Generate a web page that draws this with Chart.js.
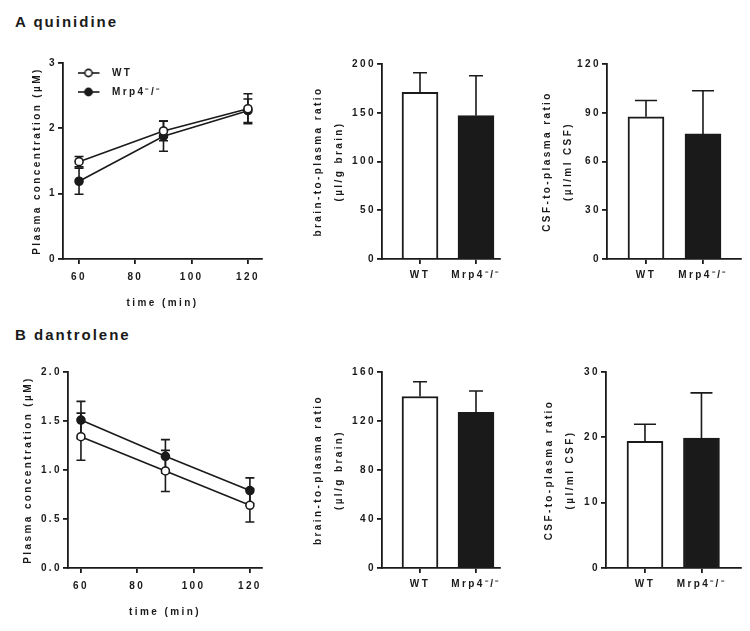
<!DOCTYPE html>
<html><head><meta charset="utf-8">
<script src="https://cdn.jsdelivr.net/npm/chart.js@4.4.1/dist/chart.umd.min.js"></script>
<style>
html,body{margin:0;padding:0;background:#fff;}
body{width:750px;height:631px;position:relative;overflow:hidden;font-family:"Liberation Sans",Arial,sans-serif;}
.ptitle{position:absolute;left:15px;font-weight:bold;font-size:15px;letter-spacing:2px;color:#1a1a1a;line-height:18px;}
canvas{position:absolute;}
</style></head><body>
<div class="ptitle" style="top:13px">A quinidine</div>
<div class="ptitle" style="top:326px">B dantrolene</div>
<canvas id="aLine" width="270" height="271" style="left:0px;top:40px"></canvas>
<canvas id="aBrain" width="240" height="249" style="left:270px;top:40px"></canvas>
<canvas id="aCsf" width="245" height="249" style="left:505px;top:40px"></canvas>
<canvas id="bLine" width="270" height="280" style="left:0px;top:340px"></canvas>
<canvas id="bBrain" width="240" height="258" style="left:270px;top:340px"></canvas>
<canvas id="bCsf" width="245" height="258" style="left:505px;top:340px"></canvas>
<script>
// ---------- data ----------
const timePoints = [60, 90, 120];
const timeTicks = [60, 80, 100, 120];
const seriesNames = ['WT', 'Mrp4\u207B/\u207B'];
const groups = ['WT', 'Mrp4\u207B/\u207B'];

// A quinidine
const quinWT = [1.49, 1.96, 2.30];
const quinWTErr = [0.08, 0.15, 0.23];
const quinKO = [1.19, 1.88, 2.27];
const quinKOErr = [0.20, 0.23, 0.18];
const quinYTicks = [0, 1, 2, 3];
const quinBrain = [171, 147];
const quinBrainErr = [20, 41];
const quinBrainTicks = [0, 50, 100, 150, 200];
const quinCsf = [87.5, 77];
const quinCsfErr = [10, 26.5];
const quinCsfTicks = [0, 30, 60, 90, 120];

// B dantrolene
const dantWT = [1.34, 0.99, 0.64];
const dantWTErr = [0.24, 0.21, 0.17];
const dantKO = [1.51, 1.14, 0.79];
const dantKOErr = [0.19, 0.17, 0.13];
const dantYTicks = [0, 0.5, 1.0, 1.5, 2.0];
const dantYTickLabels = ['0.0', '0.5', '1.0', '1.5', '2.0'];
const dantBrain = [140, 127];
const dantBrainErr = [12, 17.5];
const dantBrainTicks = [0, 40, 80, 120, 160];
const dantCsf = [19.4, 19.9];
const dantCsfErr = [2.6, 6.9];
const dantCsfTicks = [0, 10, 20, 30];

// ---------- style ----------
const INK = '#1a1a1a';
const FAMILY = "'Liberation Sans', Arial, sans-serif";
const LS = '2.4px';
const tickFont = {family: FAMILY, weight: 'bold', size: 10, lineHeight: 1.2};

Chart.defaults.animation = false;
Chart.defaults.events = [];
Chart.defaults.color = INK;

const spacingPlugin = {
  id: 'spacing',
  beforeUpdate(c) { c.ctx.letterSpacing = LS; },
  beforeLayout(c) { c.ctx.letterSpacing = LS; },
  beforeDraw(c) { c.ctx.letterSpacing = LS; }
};

const errorBarPlugin = {
  id: 'errorBars',
  beforeDatasetsDraw(chart, args, o) { if (o.mode === 'line') drawErr(chart, o); },
  afterDatasetsDraw(chart, args, o) { if (o.mode === 'bar') drawErr(chart, o); }
};
function drawErr(chart, o) {
  const ctx = chart.ctx, ys = chart.scales.y;
  chart.data.datasets.forEach((ds, di) => {
    if (!ds.errors) return;
    const meta = chart.getDatasetMeta(di);
    meta.data.forEach((el, i) => {
      const v = ds.data[i].y, e = ds.errors[i];
      const x = el.x;
      const yTop = ys.getPixelForValue(v + e);
      const yBot = o.mode === 'bar' ? ys.getPixelForValue(v) : ys.getPixelForValue(v - e);
      const h = o.cap / 2;
      ctx.save();
      ctx.strokeStyle = INK; ctx.lineWidth = 1.6;
      ctx.beginPath();
      ctx.moveTo(x, yTop); ctx.lineTo(x, yBot);
      ctx.moveTo(x - h, yTop); ctx.lineTo(x + h, yTop);
      if (o.mode === 'line') { ctx.moveTo(x - h, yBot); ctx.lineTo(x + h, yBot); }
      ctx.stroke();
      ctx.restore();
    });
  });
}

function legendIcon(fill) {
  const c = document.createElement('canvas');
  c.width = 24; c.height = 10;
  const g = c.getContext('2d');
  g.strokeStyle = INK; g.lineWidth = 1.6;
  g.beginPath(); g.moveTo(0, 5); g.lineTo(22, 5); g.stroke();
  g.beginPath(); g.arc(11, 5, 3.6, 0, Math.PI * 2);
  g.fillStyle = fill; g.fill(); g.stroke();
  return c;
}
const legendIcons = [legendIcon('#ffffff'), legendIcon(INK)];

function yAxis(ticks, labels, width, title, titlePad, lh) {
  return {
    type: 'linear', min: ticks[0], max: ticks[ticks.length - 1],
    afterFit(s) { s.width = width; },
    afterBuildTicks(s) { s.ticks = ticks.map(v => ({value: v})); },
    border: {display: true, color: INK, width: 1.8},
    grid: {display: true, drawOnChartArea: false, drawTicks: true, tickLength: 5, color: INK, lineWidth: 1.8},
    ticks: {font: tickFont, color: INK, padding: 1,
      callback: (v, i) => labels ? labels[i] : String(v)},
    title: {display: true, text: title, color: INK,
      font: {family: FAMILY, weight: 'bold', size: 10, lineHeight: lh},
      padding: {top: titlePad, bottom: 0}}
  };
}

function makeLine(id, wt, wtErr, ko, koErr, yTicks, yLabels, yWidth, yTitlePad, xMin, xMax, padTop, padRight) {
  new Chart(document.getElementById(id), {
    type: 'line',
    data: {
      datasets: [
        {label: seriesNames[0], data: timePoints.map((t, i) => ({x: t, y: wt[i]})), errors: wtErr,
         borderColor: INK, borderWidth: 1.6, pointRadius: 4, pointBorderWidth: 1.6,
         pointBackgroundColor: '#ffffff', pointBorderColor: INK, tension: 0, order: 0},
        {label: seriesNames[1], data: timePoints.map((t, i) => ({x: t, y: ko[i]})), errors: koErr,
         borderColor: INK, borderWidth: 1.6, pointRadius: 4, pointBorderWidth: 1.6,
         pointBackgroundColor: INK, pointBorderColor: INK, tension: 0, order: 1}
      ]
    },
    options: {
      responsive: false,
      layout: {padding: {top: padTop, right: padRight, left: 0, bottom: 0}},
      scales: {
        x: {
          type: 'linear', min: xMin, max: xMax,
          afterFit(s) { s.height = 52; },
          afterBuildTicks(s) { s.ticks = timeTicks.map(v => ({value: v})); },
          border: {display: true, color: INK, width: 1.8},
          grid: {display: true, drawOnChartArea: false, drawTicks: true, tickLength: 5, color: INK, lineWidth: 1.8},
          ticks: {font: tickFont, color: INK, padding: 7, maxRotation: 0},
          title: {display: true, text: 'time (min)', color: INK,
            font: {family: FAMILY, weight: 'bold', size: 10, lineHeight: 1.2},
            padding: {top: 0, bottom: 2}}
        },
        y: yAxis(yTicks, yLabels, yWidth, 'Plasma concentration (\u00B5M)', yTitlePad, 1.2)
      },
      plugins: {
        legend: {
          display: id === 'aLine', position: 'chartArea', align: 'start',
          title: {display: true, text: '', font: {size: 1, lineHeight: 1}, padding: {top: 18, bottom: 0}},
          labels: {
            usePointStyle: true, pointStyleWidth: 35, padding: 9, color: INK, font: tickFont,
            generateLabels(chart) {
              const items = Chart.defaults.plugins.legend.labels.generateLabels(chart);
              items.forEach((it, i) => { it.pointStyle = legendIcons[i]; });
              return items;
            }
          }
        },
        tooltip: {enabled: false},
        errorBars: {mode: 'line', cap: 9}
      }
    },
    plugins: [spacingPlugin, errorBarPlugin]
  });
}

function makeBar(id, vals, errs, yTicks, yWidth, title, titlePad, xMin, xMax, padTop, padRight, cap) {
  new Chart(document.getElementById(id), {
    type: 'bar',
    data: {
      datasets: [{
        label: title[0],
        data: groups.map((g, i) => ({x: i + 1, y: vals[i]})),
        errors: errs,
        backgroundColor: ['#ffffff', INK], borderColor: INK, borderWidth: 2,
        barThickness: 36
      }]
    },
    options: {
      responsive: false,
      layout: {padding: {top: padTop, right: padRight, left: 0, bottom: 0}},
      scales: {
        x: {
          type: 'linear', min: xMin, max: xMax, offset: false,
          afterFit(s) { s.height = 30; },
          afterBuildTicks(s) { s.ticks = groups.map((g, i) => ({value: i + 1})); },
          border: {display: true, color: INK, width: 1.8},
          grid: {display: true, offset: false, drawOnChartArea: false, drawTicks: true, tickLength: 5, color: INK, lineWidth: 1.8},
          ticks: {font: tickFont, color: INK, padding: 5, maxRotation: 0,
            callback: v => groups[v - 1]}
        },
        y: yAxis(yTicks, null, yWidth, title, titlePad, 2.1)
      },
      plugins: {
        legend: {display: false},
        tooltip: {enabled: false},
        errorBars: {mode: 'bar', cap: cap}
      }
    },
    plugins: [spacingPlugin, errorBarPlugin]
  });
}

makeLine('aLine', quinWT, quinWTErr, quinKO, quinKOErr, quinYTicks, null, 63, 31, 54.3, 125, 23, 8);
makeLine('bLine', dantWT, dantWTErr, dantKO, dantKOErr, dantYTicks, dantYTickLabels, 68, 22, 55.4, 124.3, 32, 8);

makeBar('aBrain', quinBrain, quinBrainErr, quinBrainTicks, 112, ['brain-to-plasma ratio', '(\u00B5l/g brain)'], 37.5, 0.321, 2.429, 24, 10, 14);
makeBar('aCsf', quinCsf, quinCsfErr, quinCsfTicks, 102, ['CSF-to-plasma ratio', '(\u00B5l/ml CSF)'], 31.5, 0.316, 2.667, 24, 9, 22);
makeBar('bBrain', dantBrain, dantBrainErr, dantBrainTicks, 112, ['brain-to-plasma ratio', '(\u00B5l/g brain)'], 37.5, 0.321, 2.429, 32, 10, 14);
makeBar('bCsf', dantCsf, dantCsfErr, dantCsfTicks, 101, ['CSF-to-plasma ratio', '(\u00B5l/ml CSF)'], 33.5, 0.31, 2.70, 32, 9, 22);
</script>
</body></html>
